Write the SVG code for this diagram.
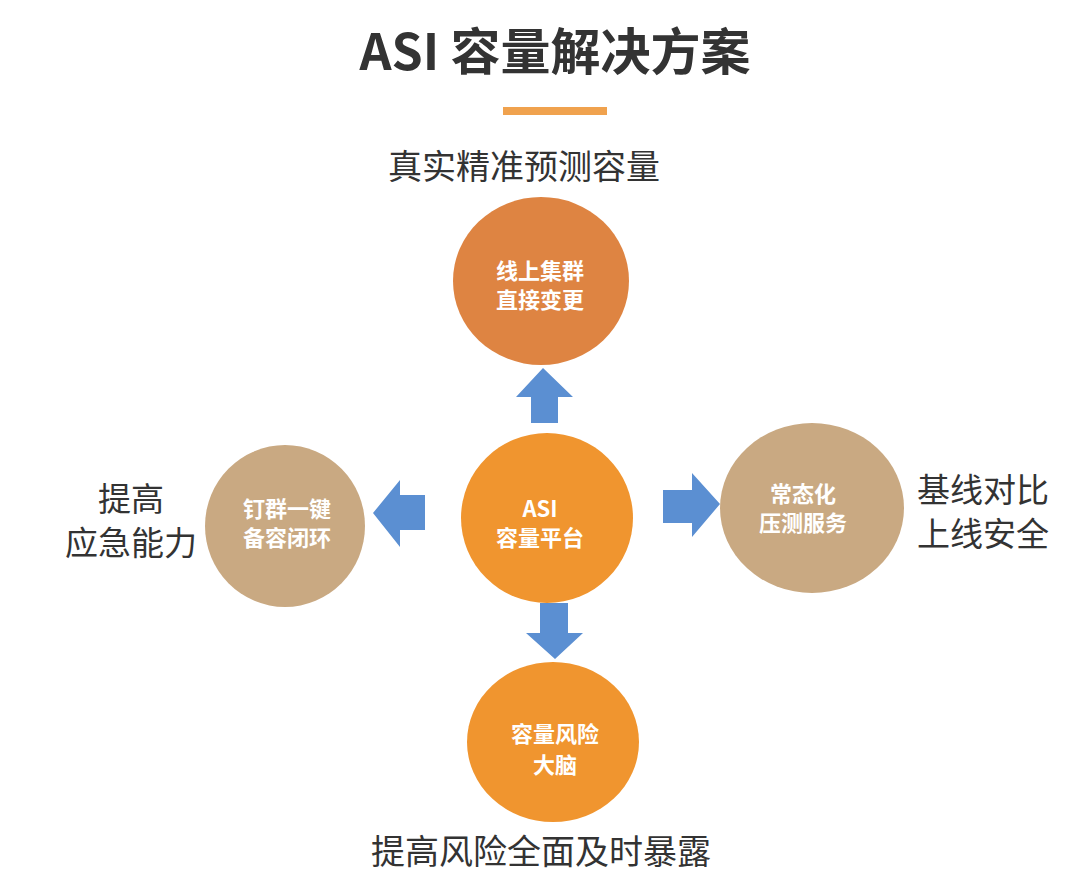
<svg xmlns="http://www.w3.org/2000/svg" width="1080" height="875" viewBox="0 0 1080 875">
<style>
.t{font-family:"Noto Sans CJK SC","Noto Sans",sans-serif;fill:#333;}
.big{font-size:33px;}
.n{font-family:"Noto Sans CJK SC","Noto Sans",sans-serif;fill:#fff;font-size:22px;font-weight:bold;text-anchor:middle;}
.arr{fill:#5B8FD2;}
.orange{fill:#F0952F;}
.tan{fill:#C9A982;}
</style>
<rect width="1080" height="875" fill="#fff"/>
<text class="t" x="555" y="70" font-size="50" font-weight="bold" text-anchor="middle">ASI 容量解决方案</text>
<rect x="503" y="107" width="104" height="8" fill="#F0A24E"/>
<text class="t" x="524" y="179" font-size="34" text-anchor="middle">真实精准预测容量</text>
<text class="t big" x="131" y="511" text-anchor="middle">提高</text>
<text class="t big" x="131" y="555" text-anchor="middle">应急能力</text>
<text class="t big" x="983" y="502" text-anchor="middle">基线对比</text>
<text class="t big" x="983" y="546" text-anchor="middle">上线安全</text>
<text class="t" x="541" y="864" font-size="34" text-anchor="middle">提高风险全面及时暴露</text>
<g id="connectors">
<polygon class="arr" points="531,423 531,397 516,397 543,368 573,397 558,397 558,423"/>
<polygon class="arr" points="425,495 400,495 400,480 373,513 400,547 400,530 425,530"/>
<polygon class="arr" points="663,490 692,490 692,473 720,504 692,537 692,523 663,523"/>
<polygon class="arr" points="540,603 568,603 568,633 583,633 555,659 526,633 540,633"/>
</g>
<g id="node-top">
<ellipse cx="541" cy="281" rx="88" ry="84" fill="#DE8442"/>
<text class="n" x="540" y="279">线上集群</text>
<text class="n" x="540" y="308">直接变更</text>
</g>
<g id="node-center">
<ellipse class="orange" cx="547" cy="518" rx="86" ry="85"/>
<text class="n" x="540" y="517">ASI</text>
<text class="n" x="540" y="546">容量平台</text>
</g>
<g id="node-left">
<ellipse class="tan" cx="285" cy="526" rx="80" ry="81"/>
<text class="n" x="287" y="517">钉群一键</text>
<text class="n" x="287" y="546">备容闭环</text>
</g>
<g id="node-right">
<ellipse class="tan" cx="812" cy="508" rx="92" ry="85"/>
<text class="n" x="803" y="502">常态化</text>
<text class="n" x="803" y="531">压测服务</text>
</g>
<g id="node-bottom">
<ellipse class="orange" cx="553" cy="742" rx="86" ry="80"/>
<text class="n" x="555" y="742">容量风险</text>
<text class="n" x="555" y="773">大脑</text>
</g>
</svg>
